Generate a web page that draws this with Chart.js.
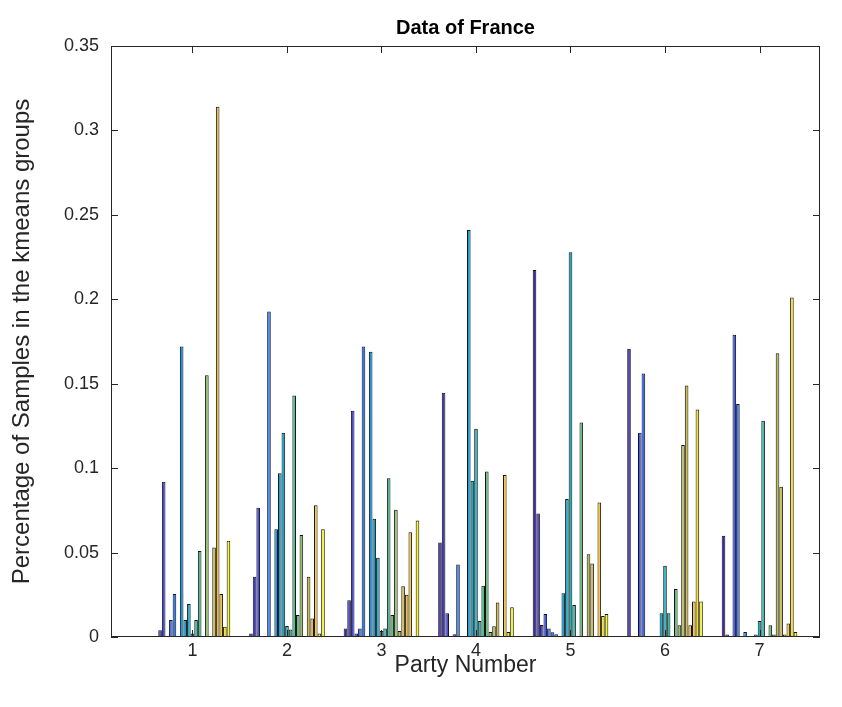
<!DOCTYPE html>
<html>
<head>
<meta charset="utf-8">
<title>Data of France</title>
<script src="https://cdn.jsdelivr.net/npm/chart.js@4.4.1/dist/chart.umd.min.js"></script>
<style>
  html, body { margin: 0; padding: 0; background: #fff; }
  #wrap { width: 842px; height: 707px; }
</style>
</head>
<body>
<div id="wrap"><canvas id="franceChart" width="842" height="707"></canvas></div>
<script>
// Share of each party's samples that falls in each of the 21 kmeans groups
const parties = [1, 2, 3, 4, 5, 6, 7];
const groupCount = 21;

const party1 = [0, 0.004, 0.092, 0, 0.010, 0.0255, 0, 0.172, 0.010, 0.0195, 0.002, 0.010, 0.051, 0, 0.155, 0, 0.053, 0.314, 0.0255, 0.006, 0.057];
const party2 = [0.002, 0.0357, 0.0766, 0, 0, 0.1927, 0, 0.0638, 0.097, 0.121, 0.0065, 0.0045, 0.143, 0.013, 0.0604, 0, 0.0357, 0.011, 0.078, 0.002, 0.0638];
const party3 = [0.005, 0.0217, 0.134, 0.002, 0.005, 0.172, 0, 0.169, 0.070, 0.047, 0.0035, 0.005, 0.094, 0.013, 0.0754, 0.0035, 0.030, 0.025, 0.062, 0, 0.069];
const party4 = [0.056, 0.1447, 0.014, 0, 0.0016, 0.043, 0, 0, 0.241, 0.0926, 0.1234, 0.0095, 0.0304, 0.098, 0.003, 0.0063, 0.0205, 0, 0.096, 0.003, 0.0176];
const party5 = [0.2173, 0.0732, 0.0071, 0.0136, 0.0051, 0.0028, 0.0016, 0, 0.0259, 0.0817, 0.2278, 0.019, 0, 0.127, 0, 0.049, 0.0436, 0, 0.0797, 0.0124, 0.0136];
const party6 = [0.1707, 0, 0, 0.121, 0.156, 0, 0, 0, 0, 0.014, 0.0422, 0.014, 0, 0.0284, 0.007, 0.1137, 0.149, 0.007, 0.021, 0.1348, 0.021];
const party7 = [0.06, 0.0015, 0, 0.179, 0.138, 0, 0.003, 0, 0, 0.0015, 0.0095, 0.128, 0, 0.007, 0.0015, 0.168, 0.089, 0.0015, 0.008, 0.201, 0.003];
const partyShares = [party1, party2, party3, party4, party5, party6, party7];

const yTicks = [0, 0.05, 0.1, 0.15, 0.2, 0.25, 0.3, 0.35];

const FONT = "'Liberation Sans', Arial, Helvetica, sans-serif";
const AXIS_COLOR = '#262626';

// parula-like colormap stops, one color per kmeans group
const parulaStops = [
  [0.242, 0.150, 0.660],
  [0.281, 0.323, 0.958],
  [0.170, 0.490, 0.985],
  [0.060, 0.620, 0.880],
  [0.080, 0.700, 0.760],
  [0.340, 0.760, 0.520],
  [0.720, 0.745, 0.330],
  [0.990, 0.730, 0.250],
  [0.977, 0.984, 0.081]
];

function parula(t) {
  const pos = t * (parulaStops.length - 1);
  const i = Math.min(Math.floor(pos), parulaStops.length - 2);
  const f = pos - i;
  const a = parulaStops[i], b = parulaStops[i + 1];
  const c = a.map((v, k) => Math.round((v + (b[k] - v) * f) * 255));
  return `rgb(${c[0]}, ${c[1]}, ${c[2]})`;
}

// one dataset per kmeans group, one bar per party
const datasets = [];
for (let g = 0; g < groupCount; g++) {
  datasets.push({
    label: 'Group ' + (g + 1),
    data: parties.map((p, i) => ({ x: p, y: partyShares[i][g] })),
    backgroundColor: parula(g / (groupCount - 1)),
    borderColor: '#141414',
    borderWidth: 1,
    categoryPercentage: 0.8,
    barPercentage: 1
  });
}

// axes box with inward tick marks on all four sides
const boxPlugin = {
  id: 'matlabBox',
  afterDatasetsDraw(chart) {
    const { ctx, chartArea: a, scales } = chart;
    const len = 7;
    ctx.save();
    ctx.strokeStyle = AXIS_COLOR;
    ctx.lineWidth = 1;
    ctx.strokeRect(a.left + 0.5, a.top + 0.5, a.right - a.left - 1, a.bottom - a.top - 1);
    ctx.beginPath();
    parties.forEach(v => {
      const x = Math.round(scales.x.getPixelForValue(v)) + 0.5;
      ctx.moveTo(x, a.bottom); ctx.lineTo(x, a.bottom - len);
      ctx.moveTo(x, a.top); ctx.lineTo(x, a.top + len);
    });
    yTicks.forEach(v => {
      const y = Math.round(scales.y.getPixelForValue(v)) + 0.5;
      ctx.moveTo(a.left, y); ctx.lineTo(a.left + len, y);
      ctx.moveTo(a.right, y); ctx.lineTo(a.right - len, y);
    });
    ctx.stroke();
    ctx.restore();
  }
};

const ctx = document.getElementById('franceChart').getContext('2d');
const franceChart = new Chart(ctx, {
  type: 'bar',
  data: { datasets: datasets },
  plugins: [boxPlugin],
  options: {
    responsive: false,
    animation: false,
    layout: { padding: { left: 0, right: 22, top: 0, bottom: 0 } },
    plugins: {
      legend: { display: false },
      tooltip: { enabled: false },
      title: {
        display: true,
        text: 'Data of France',
        fullSize: false,
        color: '#000',
        font: { family: FONT, size: 20, weight: 'bold' },
        padding: { top: 16, bottom: 6 }
      }
    },
    scales: {
      x: {
        type: 'linear',
        min: 0.138,
        max: 7.64,
        offset: false,
        grid: { display: false, drawTicks: false },
        border: { display: false },
        afterBuildTicks: scale => { scale.ticks = parties.map(v => ({ value: v })); },
        afterFit: scale => { scale.height = 70; },
        ticks: {
          color: AXIS_COLOR,
          font: { family: FONT, size: 18 },
          padding: 3,
          maxRotation: 0,
          autoSkip: false,
          callback: v => String(v)
        },
        title: {
          display: true,
          text: 'Party Number',
          color: AXIS_COLOR,
          font: { family: FONT, size: 23 },
          padding: { top: 0, bottom: 28 }
        }
      },
      y: {
        min: 0,
        max: 0.35,
        grid: { display: false, drawTicks: false },
        border: { display: false },
        afterBuildTicks: scale => { scale.ticks = yTicks.map(v => ({ value: v })); },
        afterFit: scale => { scale.width = 111; },
        ticks: {
          color: AXIS_COLOR,
          font: { family: FONT, size: 18 },
          padding: 12,
          autoSkip: false,
          callback: v => String(Number(v.toFixed(2)))
        },
        title: {
          display: true,
          text: 'Percentage of Samples in the kmeans groups',
          color: AXIS_COLOR,
          font: { family: FONT, size: 24 },
          padding: { top: 8, bottom: 0 }
        }
      }
    }
  }
});
</script>
</body>
</html>
